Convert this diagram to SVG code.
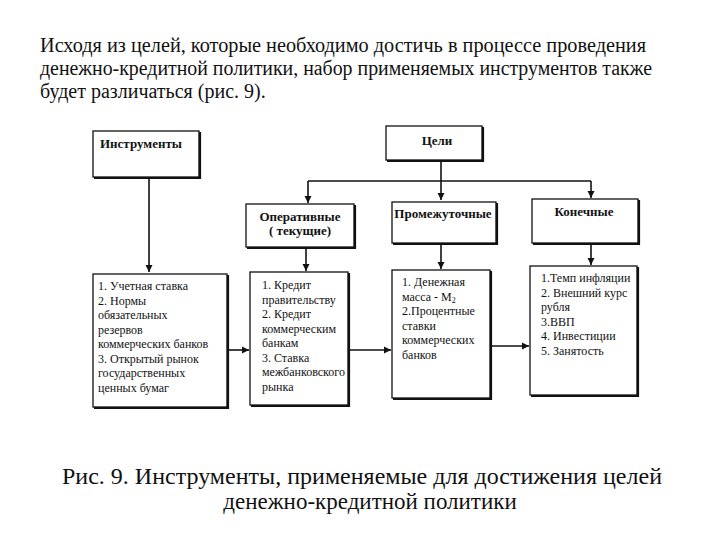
<svg xmlns="http://www.w3.org/2000/svg" width="720" height="540" viewBox="0 0 720 540">
<defs>
<style>
text{font-family:"Liberation Serif","Times New Roman",serif;fill:#111}
.para{font-size:20px}
.cap{font-size:23px}
.hd{font-size:13px;font-weight:bold}
.tx{font-size:12px}
.box{fill:#fff;stroke:#111;stroke-width:1.3}
.sh{fill:none;stroke:#111;stroke-width:2.2}
.ln{fill:none;stroke:#111;stroke-width:1.6}
</style>
<marker id="ah" markerWidth="8" markerHeight="8" refX="7" refY="4" orient="auto" markerUnits="userSpaceOnUse">
<path d="M0,0.5 L7,4 L0,7.5 Z" fill="#111"/>
</marker>
</defs>
<rect width="720" height="540" fill="#fff"/>
<g id="intro">
<text class="para" x="40" y="52" textLength="606" lengthAdjust="spacingAndGlyphs">Исходя из целей, которые необходимо достичь в процессе проведения</text>
<text class="para" x="40" y="75" textLength="612" lengthAdjust="spacingAndGlyphs">денежно-кредитной политики, набор применяемых инструментов также</text>
<text class="para" x="40" y="98">будет различаться (рис. 9).</text>
</g>
<g id="connectors">
<path class="ln" d="M149,177 V272" marker-end="url(#ah)"/>
<path class="ln" d="M441,160 V200" marker-end="url(#ah)"/>
<path class="ln" d="M308,181 H591"/>
<path class="ln" d="M308,181 V203" marker-end="url(#ah)"/>
<path class="ln" d="M591,181 V198" marker-end="url(#ah)"/>
<path class="ln" d="M306,247 V271" marker-end="url(#ah)"/>
<path class="ln" d="M441,243 V269" marker-end="url(#ah)"/>
<path class="ln" d="M591,243 V265" marker-end="url(#ah)"/>
<path class="ln" d="M227,350 H249" marker-end="url(#ah)"/>
<path class="ln" d="M348,350 H391" marker-end="url(#ah)"/>
<path class="ln" d="M490,346 H529" marker-end="url(#ah)"/>
</g>
<g id="instruments">
<rect class="box" x="93" y="131" width="106" height="46"/>
<path class="sh" d="M200,132 V178 H94"/>
<text class="hd" x="100" y="148">Инструменты</text>
</g>
<g id="goals">
<rect class="box" x="386" y="126" width="96" height="34"/>
<path class="sh" d="M483,127 V161 H387"/>
<text class="hd" x="437" y="145" text-anchor="middle">Цели</text>
</g>
<g id="operative">
<rect class="box" x="246" y="204" width="108" height="43"/>
<path class="sh" d="M355,205 V248 H247"/>
<text class="hd" x="300" y="221" text-anchor="middle">Оперативные</text>
<text class="hd" x="300" y="235" text-anchor="middle">( текущие)</text>
</g>
<g id="intermediate">
<rect class="box" x="392" y="202" width="104" height="41"/>
<path class="sh" d="M497,203 V244 H393"/>
<text class="hd" x="443" y="218" text-anchor="middle">Промежуточные</text>
</g>
<g id="final">
<rect class="box" x="532" y="199" width="106" height="44"/>
<path class="sh" d="M639,200 V244 H533"/>
<text class="hd" x="584" y="216" text-anchor="middle">Конечные</text>
</g>
<g id="box-instruments-list">
<rect class="box" x="93" y="274" width="134" height="133"/>
<path class="sh" d="M228,275 V408 H94"/>
<text class="tx" x="98" y="290">1. Учетная ставка</text>
<text class="tx" x="98" y="304.5">2. Нормы</text>
<text class="tx" x="98" y="319">обязательных</text>
<text class="tx" x="98" y="333.5">резервов</text>
<text class="tx" x="98" y="348">коммерческих банков</text>
<text class="tx" x="98" y="362.5">3. Открытый рынок</text>
<text class="tx" x="98" y="377">государственных</text>
<text class="tx" x="98" y="391.5">ценных бумаг</text>
</g>
<g id="box-operative-list">
<rect class="box" x="250" y="272" width="98" height="133"/>
<path class="sh" d="M349,273 V406 H251"/>
<text class="tx" x="262" y="289">1. Кредит</text>
<text class="tx" x="262" y="303.5">правительству</text>
<text class="tx" x="262" y="318">2. Кредит</text>
<text class="tx" x="262" y="332.5">коммерческим</text>
<text class="tx" x="262" y="347">банкам</text>
<text class="tx" x="262" y="361.5">3. Ставка</text>
<text class="tx" x="262" y="376">межбанковского</text>
<text class="tx" x="262" y="390.5">рынка</text>
</g>
<g id="box-intermediate-list">
<rect class="box" x="392" y="270" width="98" height="128"/>
<path class="sh" d="M491,271 V399 H393"/>
<text class="tx" x="402" y="286">1. Денежная</text>
<text class="tx" x="402" y="300.5">масса - M<tspan font-size="8" dy="2">2</tspan></text>
<text class="tx" x="402" y="315">2.Процентные</text>
<text class="tx" x="402" y="329.5">ставки</text>
<text class="tx" x="402" y="344">коммерческих</text>
<text class="tx" x="402" y="358.5">банков</text>
</g>
<g id="box-final-list">
<rect class="box" x="530" y="266" width="107" height="129"/>
<path class="sh" d="M638,267 V396 H531"/>
<text class="tx" x="541" y="282">1.Темп инфляции</text>
<text class="tx" x="541" y="296.5">2. Внешний курс</text>
<text class="tx" x="541" y="311">рубля</text>
<text class="tx" x="541" y="325.5">3.ВВП</text>
<text class="tx" x="541" y="340">4. Инвестиции</text>
<text class="tx" x="541" y="354.5">5. Занятость</text>
</g>
<g id="caption">
<text class="cap" x="362" y="484" text-anchor="middle" textLength="600" lengthAdjust="spacingAndGlyphs">Рис. 9. Инструменты, применяемые для достижения целей</text>
<text class="cap" x="370" y="509" text-anchor="middle">денежно-кредитной политики</text>
</g>
</svg>
